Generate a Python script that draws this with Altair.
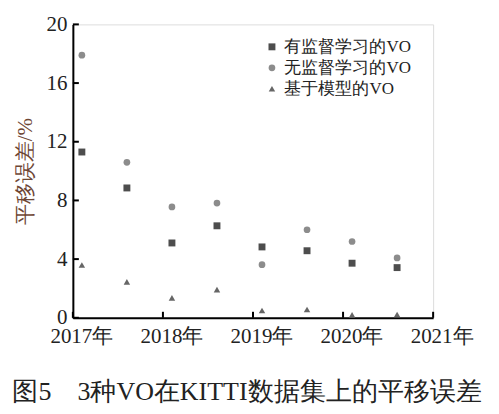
import altair as alt
import pandas as pd

series = ["有监督学习的VO", "无监督学习的VO", "基于模型的VO"]
years = [2017.1, 2017.6, 2018.1, 2018.6, 2019.1, 2019.6, 2020.1, 2020.6]
supervised = [11.3, 8.85, 5.1, 6.27, 4.83, 4.57, 3.72, 3.42]
unsupervised = [17.9, 10.6, 7.56, 7.82, 3.62, 6.0, 5.2, 4.08]
model_based = [3.6, 2.45, 1.36, 1.92, 0.5, 0.56, 0.2, 0.22]
x_ticks = [2017, 2018, 2019, 2020, 2021]
x_labels = ["2017年", "2018年", "2019年", "2020年", "2021年"]
y_ticks = [0, 4, 8, 12, 16, 20]
caption = "图5　3种VO在KITTI数据集上的平移误差"

rows = []
for name, vals in zip(series, [supervised, unsupervised, model_based]):
    for x, v in zip(years, vals):
        rows.append({"year": x, "err": v, "series": name})
df = pd.DataFrame(rows)

F = "Liberation Serif"

xscale = alt.Scale(domain=[2017, 2021], nice=False, zero=False)
yscale = alt.Scale(domain=[0, 20], nice=False)

leg = alt.Legend(title=None, orient="none", legendX=191, legendY=14,
                 labelFont=F, labelFontSize=17, labelColor="#222",
                 rowPadding=3, labelOffset=4)

points = alt.Chart(df).mark_point(filled=True, opacity=1).encode(
    x=alt.X("year:Q", scale=xscale,
            axis=alt.Axis(values=x_ticks, title=None, grid=False, ticks=False,
                          labels=False, domainColor="#000", domainWidth=2)),
    y=alt.Y("err:Q", scale=yscale,
            axis=alt.Axis(values=y_ticks, title="平移误差/%", grid=False, ticks=False,
                          labelFont=F, labelFontSize=21, labelColor="#222",
                          labelPadding=6, domainColor="#000", domainWidth=2,
                          titleFont=F, titleFontSize=21, titleColor="#6e4634",
                          titleFontWeight="normal", titlePadding=10, labelFlush=False)),
    shape=alt.Shape("series:N",
                    scale=alt.Scale(domain=series, range=["square", "circle", "triangle-up"]),
                    legend=leg),
    color=alt.Color("series:N",
                    scale=alt.Scale(domain=series, range=["#4d4d4d", "#8c8c8c", "#666666"]),
                    legend=leg),
    size=alt.Size("series:N",
                  scale=alt.Scale(domain=series, range=[48, 42, 100]),
                  legend=leg),
)

tick_df = pd.DataFrame({"t": x_ticks, "lab": x_labels})
xt = alt.Chart(tick_df).mark_rule(color="#000", strokeWidth=2).encode(
    x=alt.X("t:Q", scale=xscale), y=alt.value(294), y2=alt.value(288))
xl = alt.Chart(tick_df).mark_text(font=F, fontSize=21, color="#222",
                                  baseline="top", dx=9, dy=8).encode(
    x=alt.X("t:Q", scale=xscale), y=alt.value(294), text="lab:N")
yt = alt.Chart(pd.DataFrame({"t": y_ticks})).mark_rule(color="#000", strokeWidth=2).encode(
    y=alt.Y("t:Q", scale=yscale), x=alt.value(0), x2=alt.value(6))

chart = alt.layer(xt, yt, xl, points).properties(
    width=361, height=294,
    title=alt.TitleParams(caption, orient="bottom", anchor="middle", font=F,
                          fontSize=26, fontWeight="normal", color="#222", offset=32, dx=-6),
    autosize=alt.AutoSizeParams(type="none"),
    padding={"left": 65, "top": 16, "right": 58, "bottom": 96},
).configure_view(stroke=None).configure(background="white")

chart.save("out.html", embed_options={"renderer": "svg", "actions": False})
